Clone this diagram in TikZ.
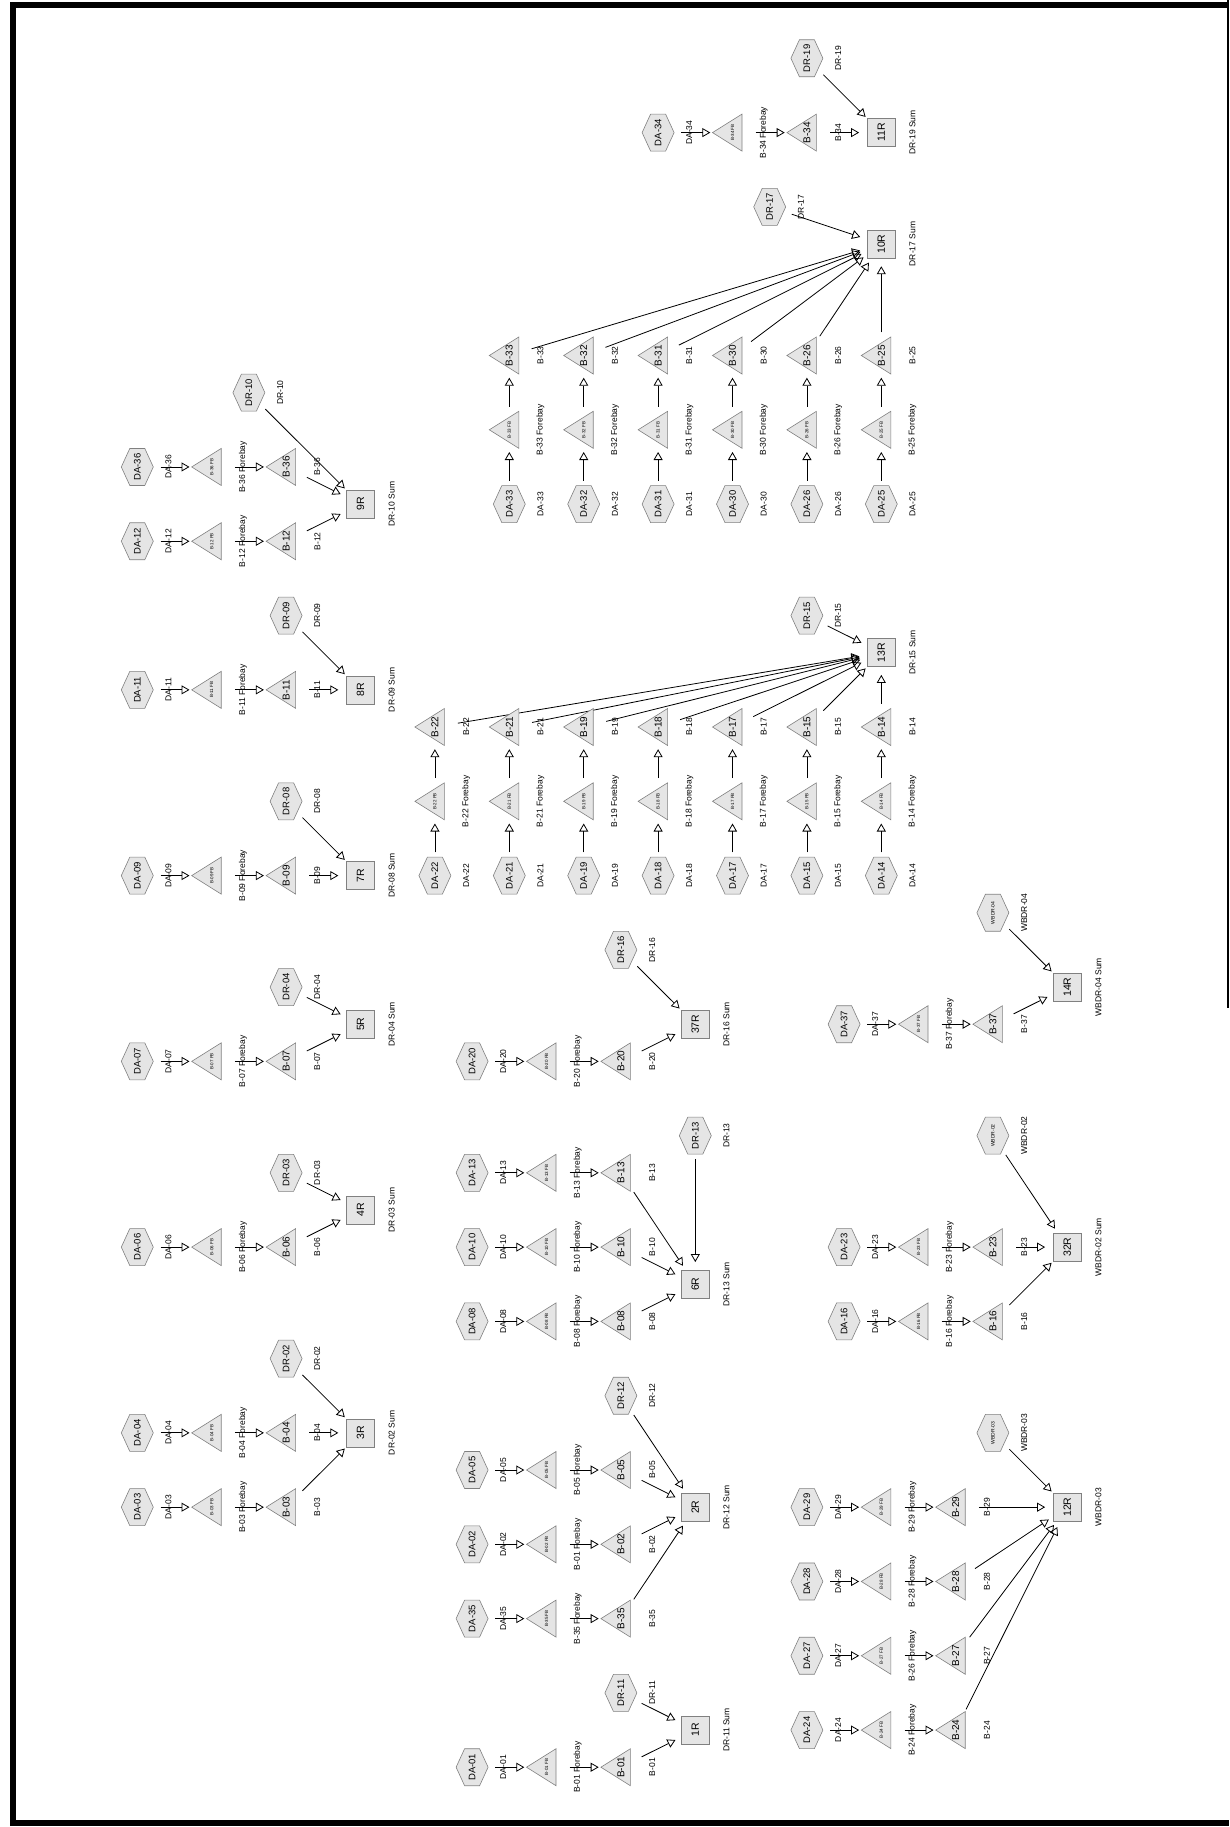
\documentclass[tikz,border=0pt]{standalone}
\usepackage{fontspec}
\setmainfont{Liberation Sans}
\usepackage{graphicx}
\usetikzlibrary{arrows.meta}

\newcommand{\vtext}[1]{\rotatebox{90}{#1}}

\tikzset{
  icon/.style={draw=black!50, fill=black!10, line width=0.6pt},
  elem/.style={circle, minimum size=44pt, inner sep=0pt},
  hexa/.style={elem, font=\fontsize{9.5}{9.5}\selectfont,
    path picture={\path[icon] (path picture bounding box.center) ++(-16pt,0pt)
      -- ++(8.5pt,18.5pt) -- ++(15pt,0pt) -- ++(8.5pt,-18.5pt)
      -- ++(-8.5pt,-18.5pt) -- ++(-15pt,0pt) -- cycle;}},
  wbhexa/.style={hexa, font=\fontsize{5}{5}\selectfont},
  tri/.style={elem, font=\fontsize{10}{10}\selectfont,
    path picture={\path[icon] (path picture bounding box.center) ++(-20pt,0pt)
      -- ++(29.5pt,18.5pt) -- ++(0pt,-37pt) -- cycle;}},
  fbtri/.style={tri, font=\fontsize{4.5}{4.5}\selectfont},
  junc/.style={elem, font=\fontsize{10.5}{10.5}\selectfont,
    path picture={\path[icon] (path picture bounding box.center) ++(-14pt,-14pt)
      rectangle ++(28pt,28pt);}},
  lbl/.style={xshift=9pt, rotate=90, anchor=center, inner sep=0pt, font=\fontsize{8.5}{8.5}\selectfont},
  link/.style={-{Triangle[open, length=8pt, width=9pt]}, line width=0.8pt, shorten <=1pt}
}

\begin{document}
\begin{tikzpicture}[x=37.2pt, y=-37.15pt]

    % page and frame (pixel units)
    \begin{scope}[x=1pt, y=-1pt, shift={(-137.3pt,58.3pt)}]
        \useasboundingbox (0,0) rectangle (1229,1827);
        \fill (10,2) rectangle (16,1826);
        \fill (10,2) rectangle (1229,8);
        \fill (10,1820) rectangle (1229,1826);
        \draw[line width=1.2pt] (1228,0) -- (1228,1008);
    \end{scope}

    % Junctions
    \node[junc, label={[lbl]0:DR-10 Sum}] (r9) at (6,12) {\vtext{9R}};
    \node[junc, label={[lbl]0:DR-09 Sum}] (r8) at (6,17) {\vtext{8R}};
    \node[junc, label={[lbl]0:DR-08 Sum}] (r7) at (6,22) {\vtext{7R}};
    \node[junc, label={[lbl]0:DR-04 Sum}] (r5) at (6,26) {\vtext{5R}};
    \node[junc, label={[lbl]0:DR-03 Sum}] (r4) at (6,31) {\vtext{4R}};
    \node[junc, label={[lbl]0:DR-02 Sum}] (r3) at (6,37) {\vtext{3R}};
    \node[junc, label={[lbl]0:DR-16 Sum}] (r37) at (15,26) {\vtext{37R}};
    \node[junc, label={[lbl]0:DR-13 Sum}] (r6) at (15,33) {\vtext{6R}};
    \node[junc, label={[lbl]0:DR-12 Sum}] (r2) at (15,39) {\vtext{2R}};
    \node[junc, label={[lbl]0:DR-11 Sum}] (r1) at (15,45) {\vtext{1R}};
    \node[junc, label={[lbl]0:WBDR-04 Sum}] (r14) at (25,25) {\vtext{14R}};
    \node[junc, label={[lbl]0:WBDR-02 Sum}] (r32) at (25,32) {\vtext{32R}};
    \node[junc, label={[lbl]0:WBDR-03}] (r12) at (25,39) {\vtext{12R}};
    \node[junc, label={[lbl]0:DR-15 Sum}] (r13) at (20,16) {\vtext{13R}};
    \node[junc, label={[lbl]0:DR-17 Sum}] (r10) at (20,5) {\vtext{10R}};
    \node[junc, label={[lbl]0:DR-19 Sum}] (r11) at (20,2) {\vtext{11R}};

    % Diversion reaches
    \foreach \name/\txt/\m/\n/\sink in {dr10/DR-10/3/9/r9, dr09/DR-09/4/15/r8,
        dr08/DR-08/4/20/r7, dr04/DR-04/4/25/r5, dr03/DR-03/4/30/r4,
        dr02/DR-02/4/35/r3, dr16/DR-16/13/24/r37, dr13/DR-13/15/29/r6,
        dr12/DR-12/13/36/r2, dr11/DR-11/13/44/r1, dr15/DR-15/18/15/r13,
        dr17/DR-17/17/4/r10, dr19/DR-19/18/0/r11}{
        \node[hexa, label={[lbl]0:\txt}] (\name) at (\m,\n) {\vtext{\txt}};
        \draw[link] (\name) -- (\sink);
    }
    \foreach \name/\txt/\m/\n/\sink in {wbdr04/WBDR-04/23/23/r14,
        wbdr02/WBDR-02/23/29/r32, wbdr03/WBDR-03/23/37/r12}{
        \node[wbhexa, label={[lbl]0:\txt}] (\name) at (\m,\n) {\vtext{\txt}};
        \draw[link] (\name) -- (\sink);
    }

    % Horizontal chains: area, forebay, basin
    \foreach \id/\m/\n/\fb/\sink in {36/0/11/36/r9, 12/0/13/12/r9, 11/0/17/11/r8,
        09/0/22/09/r7, 07/0/27/07/r5, 06/0/32/06/r4, 04/0/37/04/r3, 03/0/39/03/r3,
        20/9/27/20/r37, 13/9/30/13/r6, 10/9/32/10/r6, 08/9/34/08/r6,
        05/9/38/05/r2, 02/9/40/01/r2, 35/9/42/35/r2, 01/9/46/01/r1,
        37/19/26/37/r14, 23/19/32/23/r32, 16/19/34/16/r32,
        29/18/39/29/r12, 28/18/41/28/r12, 27/18/43/26/r12, 24/18/45/24/r12,
        34/14/2/34/r11}{
        \node[hexa, label={[lbl]0:DA-\id}] (da\id) at (\m,\n) {\vtext{DA-\id}};
        \node[fbtri, label={[lbl]0:B-\fb\ Forebay}] (fb\id) at (\m+2,\n) {\vtext{B-\id\ FB}};
        \node[tri, label={[lbl]0:B-\id}] (b\id) at (\m+4,\n) {\vtext{B-\id}};
        \draw[link] (da\id) -- (fb\id);
        \draw[link] (fb\id) -- (b\id);
        \draw[link] (b\id) -- (\sink);
    }

    % Vertical chains to 13R
    \foreach \id/\m in {22/8, 21/10, 19/12, 18/14, 17/16, 15/18, 14/20}{
        \node[hexa, label={[lbl]0:DA-\id}] (da\id) at (\m,22) {\vtext{DA-\id}};
        \node[fbtri, label={[lbl]0:B-\id\ Forebay}] (fb\id) at (\m,20) {\vtext{B-\id\ FB}};
        \node[tri, label={[lbl]0:B-\id}] (b\id) at (\m,18) {\vtext{B-\id}};
        \draw[link] (da\id) -- (fb\id);
        \draw[link] (fb\id) -- (b\id);
        \draw[link] (b\id) -- (r13);
    }

    % Vertical chains to 10R
    \foreach \id/\m in {33/10, 32/12, 31/14, 30/16, 26/18, 25/20}{
        \node[hexa, label={[lbl]0:DA-\id}] (da\id) at (\m,12) {\vtext{DA-\id}};
        \node[fbtri, label={[lbl]0:B-\id\ Forebay}] (fb\id) at (\m,10) {\vtext{B-\id\ FB}};
        \node[tri, label={[lbl]0:B-\id}] (b\id) at (\m,8) {\vtext{B-\id}};
        \draw[link] (da\id) -- (fb\id);
        \draw[link] (fb\id) -- (b\id);
        \draw[link] (b\id) -- (r10);
    }

\end{tikzpicture}
\end{document}
